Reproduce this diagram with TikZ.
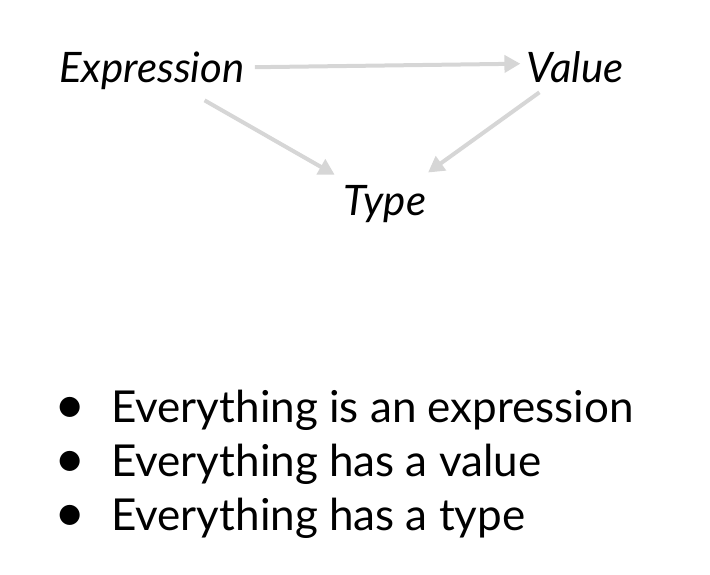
\documentclass[tikz,border=0pt]{standalone}
\usepackage{fontspec}
\setmainfont{Lato}
\usetikzlibrary{arrows.meta}
\usetikzlibrary{positioning}
\usepackage{xcolor}
\definecolor{arrowgray}{HTML}{D6D6D6}
\newcommand{\bigdot}{\makebox[57pt][l]{\fontsize{54}{54}\selectfont\raisebox{-1pt}{•}}}

\begin{document}
\begin{tikzpicture}[x=1pt, y=-1pt,
	term/.style={font=\fontsize{42}{50}\selectfont\itshape, inner sep=4pt},
	flow/.style={-{Triangle[length=16pt, width=17pt]}, line width=4pt, arrowgray},
	item/.style={font=\fontsize{44}{54}\selectfont, anchor=base west, inner sep=0pt}]
	
	\useasboundingbox (0,0) rectangle (710,574);
	
	%terms
	\node[term, anchor=base] (expr) at (152,82) {Expression};
	\node[term, anchor=base] (val) at (575,82) {Value};
	\node[term, anchor=base] (type) at (385,215) {Type};
	
	%arrows
	\draw[flow, shorten <=6pt, shorten >=2pt] ([yshift=3pt]expr.east) -- ([yshift=3pt]val.west);
	\draw[flow, shorten <=14pt, shorten >=12pt] (expr) -- (type);
	\draw[flow, shorten <=10pt, shorten >=14pt] (val) -- (type);
	
	%bullets
	\node[item] (line1) at (54,422) {\bigdot Everything is an expression};
	\node[item] (line2) at (54,476) {\bigdot Everything has a value};
	\node[item] (line3) at (54,530) {\bigdot Everything has a type};
	
\end{tikzpicture}
\end{document}
